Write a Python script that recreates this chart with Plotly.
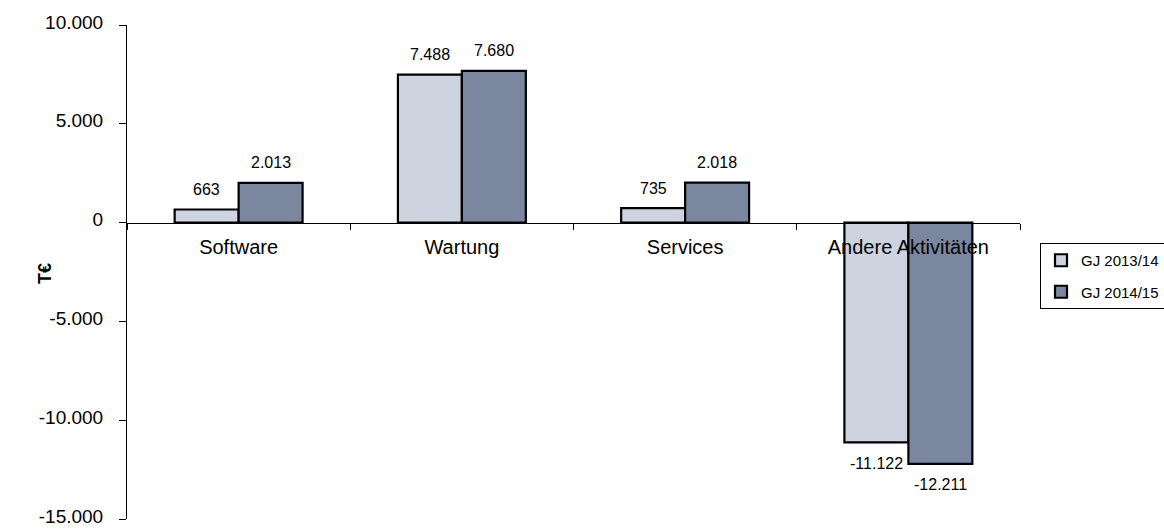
import plotly.graph_objects as go

categories = ["Software", "Wartung", "Services", "Andere Aktivitäten"]
series_names = ["GJ 2013/14", "GJ 2014/15"]
values_1314 = [663, 7488, 735, -11122]
values_1415 = [2013, 7680, 2018, -12211]
ytick_vals = [10000, 5000, 0, -5000, -10000, -15000]
ytick_text = ["10.000", "5.000", "0", "-5.000", "-10.000", "-15.000"]

colors = ["#CDD3DF", "#7B869F"]

def fmt(v):
    s = f"{abs(v):,}".replace(",", ".")
    return ("-" if v < 0 else "") + s

fig = go.Figure()
for name, vals, col in zip(series_names, [values_1314, values_1415], colors):
    fig.add_trace(go.Bar(
        x=categories, y=vals, name=name, legendgroup=name,
        marker=dict(color=col, line=dict(color="black", width=2.2)),
    ))

font = "Liberation Sans, Arial, sans-serif"
plot_l, plot_r, plot_t, plot_b = 127, 1020, 25, 519

annotations = []
for i, vals in enumerate([values_1314, values_1415]):
    shift = -32 if i == 0 else 32
    for c, v in zip(categories, vals):
        annotations.append(dict(
            x=c, y=v, xref="x", yref="y", text=fmt(v), showarrow=False,
            xshift=shift, yshift=20 if v >= 0 else -21,
            yanchor="middle", font=dict(size=16, color="black", family=font),
        ))
annotations.append(dict(
    x=(45 - plot_l) / (plot_r - plot_l), y=1 - (274 - plot_t) / (plot_b - plot_t),
    xref="paper", yref="paper", xanchor="center", yanchor="middle",
    text="<b>T€</b>", showarrow=False,
    textangle=-90, font=dict(size=18, color="black", family=font),
))

fig.update_layout(
    width=1164, height=530,
    margin=dict(l=plot_l, r=1164 - plot_r, t=plot_t, b=530 - plot_b, autoexpand=False),
    paper_bgcolor="white", plot_bgcolor="white",
    barmode="group", bargap=0.427, bargroupgap=0,
    font=dict(family=font, color="black", size=19),
    showlegend=True,
    legend=dict(
        x=(1040 - plot_l) / (plot_r - plot_l), y=1 - (243 - plot_t) / (plot_b - plot_t),
        xanchor="left", yanchor="top",
        bordercolor="black", borderwidth=1, bgcolor="white",
        font=dict(size=15, family=font), itemwidth=30,
        traceorder="grouped", tracegroupgap=9,
        entrywidth=130, entrywidthmode="pixels",
    ),
    xaxis=dict(
        anchor="free", position=0.6, showline=True, linecolor="black", linewidth=1,
        ticks="outside", tickson="boundaries", ticklen=6, tickcolor="black",
        showgrid=False, tickfont=dict(size=20), ticklabelstandoff=6,
    ),
    yaxis=dict(
        range=[-15000, 10000], tickvals=ytick_vals, ticktext=ytick_text,
        showline=True, linecolor="black", linewidth=1, ticks="outside", ticklen=7,
        tickcolor="black", showgrid=False, zeroline=False, tickfont=dict(size=19),
        ticklabeloverflow="allow", ticklabelstandoff=12, ticklabelshift=-3,
    ),
    annotations=annotations,
)

fig.write_html("out.html")
